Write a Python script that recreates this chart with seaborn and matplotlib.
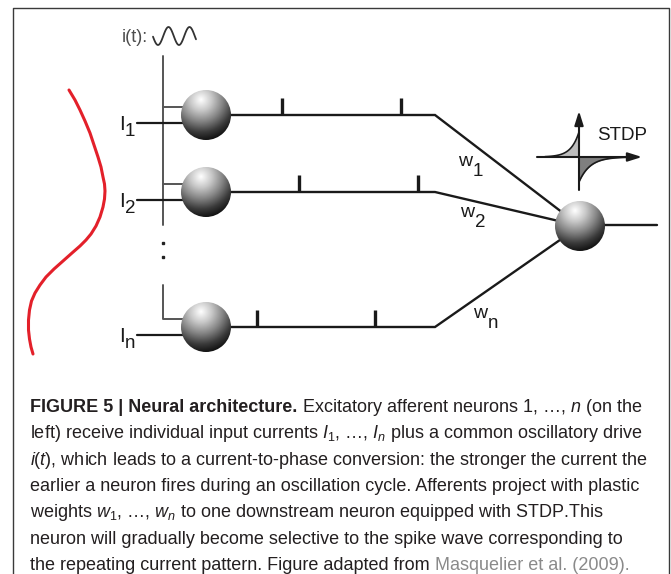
import numpy as np
import matplotlib
matplotlib.use("Agg")
from matplotlib import pyplot as plt
from matplotlib.colors import LinearSegmentedColormap
from matplotlib.patches import Circle
import seaborn as sns
import pandas as pd

# afferent neurons that are drawn (1, 2 and n) - rows in picture pixels
neuron_y = [115, 192, 327]
input_subs = ['1', '2', 'n']
spike_x = [[282, 401], [299, 418], [257, 375]]
weight_subs = ['1', '2', 'n']
weight_pos = [(458, 166), (460, 217), (473, 318)]
out_neuron = (580, 226)

# red input current profile on the left
current_x = [69, 75, 80, 85, 90, 94, 98, 101, 103, 104.5, 105, 104.5, 103, 100, 96, 91, 86,
             80, 72, 63, 54, 46, 40, 35, 31.5, 29.5, 28.5, 28.5, 29.5, 31, 33]
current_y = [90, 100, 110, 121, 133, 145, 157, 167, 177, 184, 191, 199, 207, 217, 226, 234, 240,
             246, 253, 261, 269, 277, 285, 293, 301, 310, 320, 330, 339, 347, 354]

caption_title = "FIGURE 5 | Neural architecture."
caption_lines = [
    r"Excitatory afferent neurons 1, …, $\mathit{n}$ (on the",
    r"left) receive individual input currents $I_1$, …, $I_n$ plus a common oscillatory drive",
    r"$\mathit{i(t)}$, which leads to a current-to-phase conversion: the stronger the current the",
    "earlier a neuron fires during an oscillation cycle. Afferents project with plastic",
    r"weights $w_1$, …, $w_n$ to one downstream neuron equipped with STDP.This",
    "neuron will gradually become selective to the spike wave corresponding to",
    "the repeating current pattern. Figure adapted from",
]
citation = "Masquelier et al. (2009)."

sns.set_theme(style="white")
plt.rcParams['font.family'] = ['Liberation Sans', 'DejaVu Sans']
plt.rcParams['mathtext.fontset'] = 'custom'
plt.rcParams['mathtext.rm'] = 'Liberation Sans'
plt.rcParams['mathtext.it'] = 'Liberation Sans:italic'
plt.rcParams['mathtext.bf'] = 'Liberation Sans:bold'

fig = plt.figure(figsize=(6.71, 5.74), dpi=100)
ax = fig.add_axes([0, 0, 1, 1])
ax.set_xlim(0, 671)
ax.set_ylim(574, 0)
ax.axis('off')

# frame
ax.plot([13, 13, 669, 669], [574, 8, 8, 574], color='#3a3a3a', lw=1.0)

ball_cmap = LinearSegmentedColormap.from_list(
    'ball', ['#ffffff', '#c8c8c8', '#858585', '#3a3a3a', '#050505'])


def draw_ball(cx, cy, r=25):
    xs = np.linspace(cx - r, cx + r, 150)
    ys = np.linspace(cy - r, cy + r, 150)
    X, Y = np.meshgrid(xs, ys)
    d = np.hypot(X - (cx - 0.2 * r), Y - (cy - 0.62 * r)) / (1.75 * r)
    im = ax.imshow(np.clip(d, 0, 1), cmap=ball_cmap, vmin=0, vmax=1,
                   extent=(cx - r, cx + r, cy + r, cy - r), origin='upper',
                   aspect='auto', interpolation='bilinear', zorder=5)
    circ = Circle((cx, cy), r, transform=ax.transData, fc='none', ec='none')
    ax.add_patch(circ)
    im.set_clip_path(circ)


# oscillatory drive line
gray = '#555555'
ax.plot([163, 163], [56, 225], color=gray, lw=1.4)
ax.plot([163, 163, 206], [285, neuron_y[2] - 8, neuron_y[2] - 8], color=gray, lw=1.4)
for yy in neuron_y[:2]:
    ax.plot([163, 206], [yy - 8, yy - 8], color=gray, lw=1.4)
ax.plot([163, 163], [243, 257], ls='none', marker='s', ms=2, color='#222222')

# sine icon for i(t)
sx = np.linspace(153, 196, 80)
ax.plot(sx, 36 + 9 * np.cos(2 * np.pi * (sx - 158) / 21), color='#333333', lw=1.3)
ax.text(122, 42.5, 'i(t):', fontsize=13, color='#4d4d4d', va='baseline')

ox, oy = out_neuron
for i, yy in enumerate(neuron_y):
    # input current
    ax.plot([137, 206], [yy + 8, yy + 8], color='k', lw=1.6)
    ax.text(119, yy + 15, 'I', fontsize=15, color='k', va='baseline')
    ax.text(125, yy + 21, input_subs[i], fontsize=13.5, color='k', va='baseline')
    # axon with two spikes, then projection to downstream neuron
    ax.plot([206, 435, ox], [yy, yy, oy], color='k', lw=1.7, solid_joinstyle='miter')
    for sxp in spike_x[i]:
        ax.plot([sxp, sxp], [yy, yy - 17], color='k', lw=2.4, solid_capstyle='butt')
    draw_ball(206, yy)
    wx, wy = weight_pos[i]
    ax.text(wx, wy, 'w', fontsize=14, color='k', va='baseline')
    ax.text(wx + 15, wy + 10, weight_subs[i], fontsize=13.5, color='k', va='baseline')

ax.plot([ox, 657], [oy - 1, oy - 1], color='k', lw=1.7)
draw_ball(ox, oy)

# red current profile
sns.lineplot(x=current_x, y=current_y, sort=False, estimator=None, errorbar=None,
             color='#e3202a', lw=2.2, ax=ax)

# STDP window inset
cx0, cy0 = 579, 157
xl = np.linspace(545, cx0, 60)
yl = cy0 - 25 * np.exp((xl - cx0) / 8)
ax.fill_between(xl, yl, cy0, color='#bdbdbd', lw=0)
ax.plot(xl, yl, color='k', lw=1.2)
xr = np.linspace(cx0, 632, 60)
yr = cy0 + 25 * np.exp(-(xr - cx0) / 11)
ax.fill_between(xr, cy0, yr, color='#7f7f7f', lw=0)
ax.plot(xr, yr, color='k', lw=1.2)
arrow_kw = dict(arrowstyle='-|>,head_length=0.7,head_width=0.22', color='k', lw=1.5,
                shrinkA=0, shrinkB=0)
ax.annotate('', xy=(642, cy0), xytext=(537, cy0), arrowprops=arrow_kw)
ax.annotate('', xy=(cx0, 111), xytext=(cx0, 190), arrowprops=arrow_kw)
ax.text(597, 140, 'STDP', fontsize=13.6, color='k', va='baseline')

# caption
renderer = fig.canvas.get_renderer()


def text_width(s, **kw):
    t = ax.text(0, 0, s, **kw)
    w = t.get_window_extent(renderer).width
    t.remove()
    return w


# size the caption font so that the second line spans the same width as in the figure
probe = text_width(caption_lines[1], fontsize=12, family='Liberation Sans')
cap_size = 12 * 612 / probe
cap_kw = dict(fontsize=cap_size, color='#231f20', va='baseline', family='Liberation Sans')

space = text_width('a a', **cap_kw) - text_width('aa', **cap_kw)
x0 = 30
baselines = [412 + 26.3 * k for k in range(len(caption_lines))]
t = ax.text(x0, baselines[0], caption_title, fontweight='bold', **cap_kw)
tw = t.get_window_extent(renderer).width
ax.text(x0 + tw + space, baselines[0], caption_lines[0], **cap_kw)
for k in range(1, len(caption_lines)):
    t = ax.text(x0, baselines[k], caption_lines[k], **cap_kw)
tw = t.get_window_extent(renderer).width
ax.text(x0 + tw + space, baselines[-1], citation,
        **{**cap_kw, 'color': '#8a8a8a'})

ax.set_xlim(0, 671)
ax.set_ylim(574, 0)
fig.savefig('out.png', dpi=100)
